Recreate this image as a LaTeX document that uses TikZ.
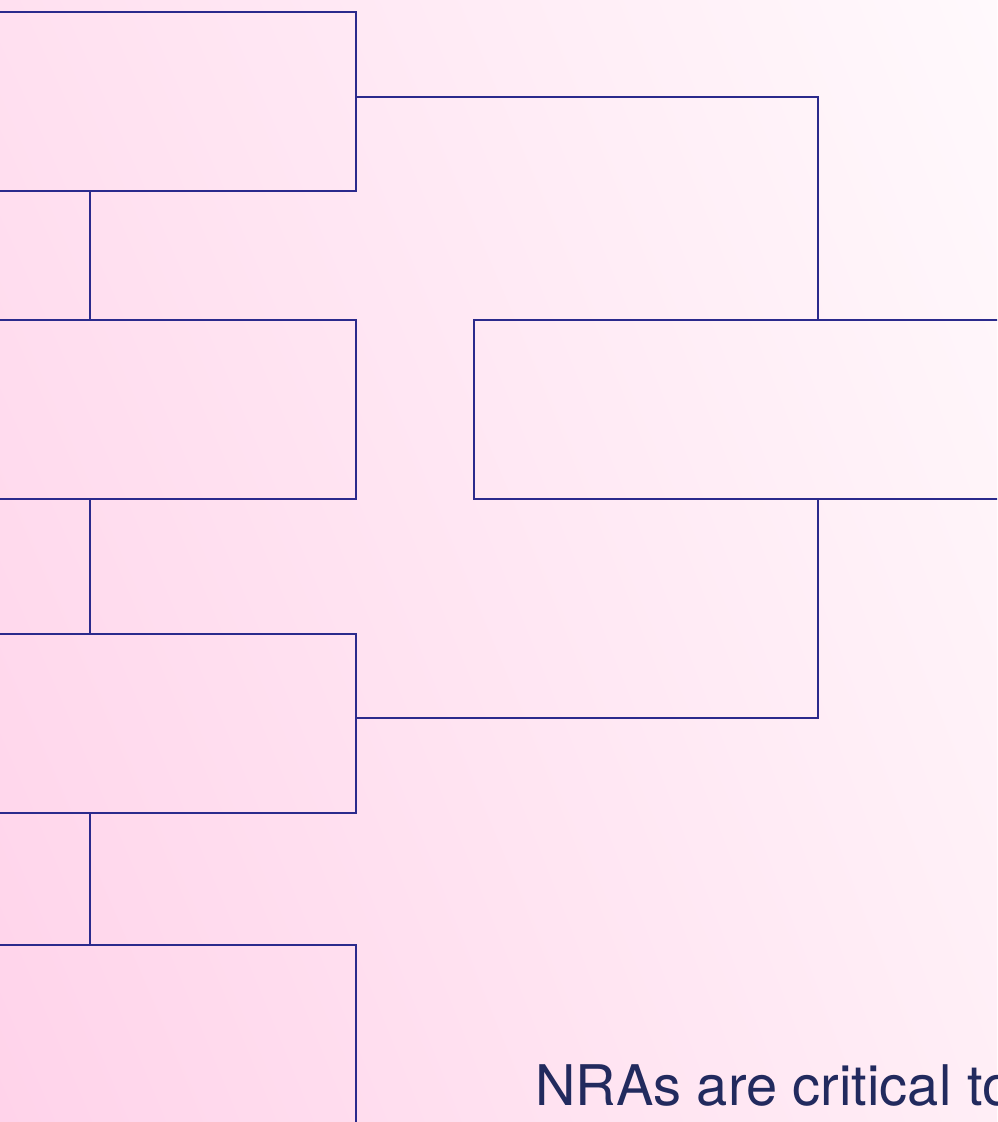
\documentclass[tikz,border=0pt]{standalone}
\usepackage{fontspec}
\setmainfont{TeX Gyre Heros}
\usetikzlibrary{shadings}
\definecolor{linec}{HTML}{2B2A8C}
\definecolor{textc}{HTML}{222A5E}
\definecolor{bgll}{HTML}{FFD3EA}
\definecolor{bgul}{HTML}{FFE0F0}
\definecolor{bglr}{HTML}{FFEEF6}
\definecolor{bgur}{HTML}{FFF9FC}
\begin{document}
\begin{tikzpicture}[x=1pt,y=-1pt,
  panel/.style={draw=linec,line width=2pt,rectangle,inner sep=0pt,outer sep=0pt,anchor=north west},
  link/.style={draw=linec,line width=2pt},
  caption/.style={text=textc,font=\fontsize{56}{60}\selectfont,inner sep=0pt,anchor=base west}]
\useasboundingbox (0,0) rectangle (997,1122);
\clip (0,0) rectangle (997,1122);
\shade[lower left=bgll,upper left=bgul,lower right=bglr,upper right=bgur] (0,1122) rectangle (997,0);
\node[panel,minimum width=375.5pt,minimum height=179pt] (a) at (-20,11.5) {};
\node[panel,minimum width=375.5pt,minimum height=178.5pt] (b) at (-20,320) {};
\node[panel,minimum width=375.5pt,minimum height=179pt] (c) at (-20,634) {};
\node[panel,minimum width=375.5pt,minimum height=220pt] (d) at (-20,945) {};
\node[panel,minimum width=560pt,minimum height=179pt] (e) at (474,320) {};
\draw[link] (a.south west) ++(110,0) coordinate (a1) -- (a1 |- b.north);
\draw[link] (b.south west) ++(110,0) coordinate (b1) -- (b1 |- c.north);
\draw[link] (c.south west) ++(110,0) coordinate (c1) -- (c1 |- d.north);
\coordinate (eTop) at (818,320);
\coordinate (eBot) at (818,499);
\draw[link] (a.east |- 0,97) -- (818,97) -- (eTop);
\draw[link] (eBot) -- (818,718) -- (c.east |- 0,718);
\node[caption] (t) at (535,1105) {NRAs are critical to};
\end{tikzpicture}
\end{document}
